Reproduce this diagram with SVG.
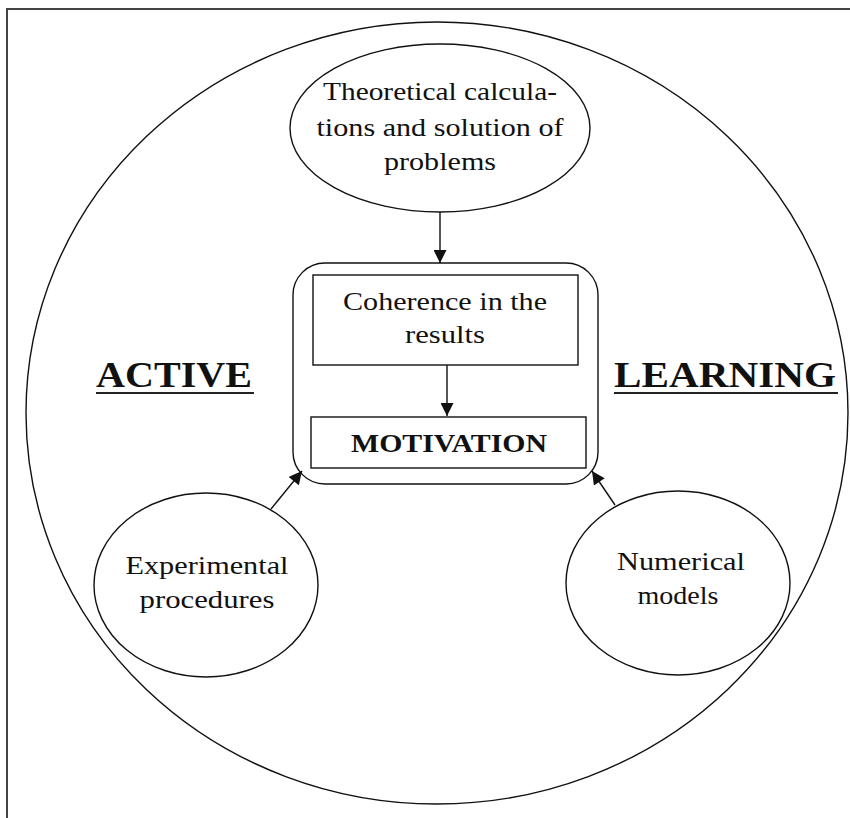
<svg xmlns="http://www.w3.org/2000/svg" width="850" height="818" viewBox="0 0 850 818">
<style>
.ln{fill:none;stroke:#111;stroke-width:1.4}
.fr{fill:none;stroke:#444;stroke-width:2}
.t{font-family:"Liberation Serif","Times New Roman",serif;font-size:25px;fill:#111;text-anchor:middle}
.b{font-family:"Liberation Serif","Times New Roman",serif;font-weight:bold;fill:#111}
</style>
<defs>
<marker id="ah" viewBox="0 0 10 10" refX="10" refY="5" markerWidth="14" markerHeight="13" markerUnits="userSpaceOnUse" orient="auto">
<path d="M0,0 L10,5 L0,10 z" fill="#111"/>
</marker>
</defs>
<rect width="850" height="818" fill="#fff"/>
<g id="frame">
<path class="fr" d="M7,818 V9 H850"/>
</g>
<g id="outer">
<ellipse class="ln" cx="437" cy="413" rx="411" ry="391"/>
</g>
<g id="theoretical">
<ellipse class="ln" cx="440" cy="128" rx="150" ry="84"/>
<text class="t" x="440" y="100" textLength="234" lengthAdjust="spacingAndGlyphs">Theoretical calcula-</text>
<text class="t" x="440" y="136" textLength="247" lengthAdjust="spacingAndGlyphs">tions and solution of</text>
<text class="t" x="440" y="170" textLength="112" lengthAdjust="spacingAndGlyphs">problems</text>
</g>
<g id="center">
<rect class="ln" x="293" y="263" width="305" height="221" rx="32"/>
</g>
<g id="coherence">
<rect class="ln" x="313" y="275" width="265" height="90"/>
<text class="t" x="445" y="310" textLength="204" lengthAdjust="spacingAndGlyphs">Coherence in the</text>
<text class="t" x="445" y="343" textLength="80" lengthAdjust="spacingAndGlyphs">results</text>
</g>
<g id="motivation">
<rect class="ln" x="311" y="417" width="275" height="51"/>
<text class="b" x="449" y="452" font-size="26" text-anchor="middle" textLength="196" lengthAdjust="spacingAndGlyphs">MOTIVATION</text>
</g>
<g id="active">
<text class="b" x="96" y="387" font-size="35" textLength="156" lengthAdjust="spacingAndGlyphs">ACTIVE</text>
<line x1="96" y1="393" x2="254" y2="393" stroke="#222" stroke-width="2"/>
</g>
<g id="learning">
<text class="b" x="614" y="387" font-size="35" textLength="222" lengthAdjust="spacingAndGlyphs">LEARNING</text>
<line x1="614" y1="393" x2="838" y2="393" stroke="#222" stroke-width="2"/>
</g>
<g id="experimental">
<ellipse class="ln" cx="206" cy="585" rx="112" ry="92"/>
<text class="t" x="207" y="574" textLength="163" lengthAdjust="spacingAndGlyphs">Experimental</text>
<text class="t" x="207" y="608" textLength="135" lengthAdjust="spacingAndGlyphs">procedures</text>
</g>
<g id="numerical">
<ellipse class="ln" cx="678" cy="583" rx="112" ry="92"/>
<text class="t" x="681" y="570" textLength="128" lengthAdjust="spacingAndGlyphs">Numerical</text>
<text class="t" x="678" y="604" textLength="81" lengthAdjust="spacingAndGlyphs">models</text>
</g>
<g id="connectors">
<line class="ln" x1="440" y1="212" x2="440" y2="263" marker-end="url(#ah)"/>
<line class="ln" x1="447" y1="365" x2="447" y2="416" marker-end="url(#ah)"/>
<line class="ln" x1="271" y1="509" x2="302" y2="471" marker-end="url(#ah)"/>
<line class="ln" x1="615" y1="505" x2="592" y2="471" marker-end="url(#ah)"/>
</g>
</svg>
